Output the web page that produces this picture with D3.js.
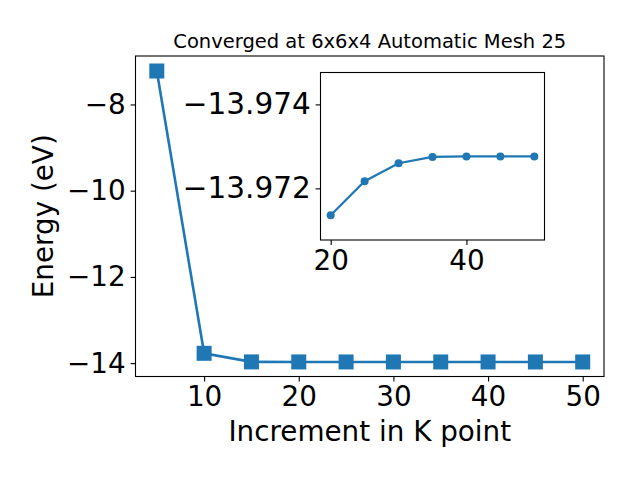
<!DOCTYPE html>
<html><head><meta charset="utf-8">
<script src="https://cdn.jsdelivr.net/npm/d3@7"></script>
<style>body{margin:0;background:#fff}svg{display:block}text{font-family:"DejaVu Sans",sans-serif;fill:#000}</style>
</head><body>
<svg id="c" width="640" height="480"></svg>
<script>
const kPoints = [5,10,15,20,25,30,35,40,45,50];
const energies = [-7.224,-13.772,-13.97136,-13.97217,-13.9726,-13.97275,-13.97276,-13.97276,-13.97276,-13.97276];
const mainXTicks = [10,20,30,40,50];
const mainYTicks = [-8,-10,-12,-14];
const insetK = [20,25,30,35,40,45,50];
const insetE = [-13.97136,-13.97217,-13.9726,-13.97275,-13.97276,-13.97276,-13.97276];
const insetXTicks = [20,40];
const insetYTicks = [-13.974,-13.972];
const title = "Converged at 6x6x4 Automatic Mesh 25";
const xLabel = "Increment in K point";
const yLabel = "Energy (eV)";

const svg = d3.select("#c");
const blue = "#1f77b4";
const fmt = v => (v<0?"\u2212":"") + Math.abs(v).toString();
const fmt3 = v => (v<0?"\u2212":"") + Math.abs(v).toFixed(3);

// main axes
const L=135.5, R=604, T=56, B=376.5;
const x = d3.scaleLinear().domain([2.75,52.25]).range([L,R]);
const y = d3.scaleLinear().domain([-14.31,-6.876]).range([B,T]);

svg.append("rect").attr("x",L).attr("y",T).attr("width",R-L).attr("height",B-T)
  .attr("fill","#fff").attr("stroke","#000").attr("stroke-width",1.1);

const gx = svg.append("g").attr("transform",`translate(0,${B})`)
  .call(d3.axisBottom(x).tickValues(mainXTicks).tickFormat(fmt).tickSize(4.9).tickPadding(4.9));
const gy = svg.append("g").attr("transform",`translate(${L},0)`)
  .call(d3.axisLeft(y).tickValues(mainYTicks).tickFormat(fmt).tickSize(4.9).tickPadding(4.9));
[gx,gy].forEach(g=>{g.select(".domain").remove();
  g.selectAll("line").attr("stroke","#000").attr("stroke-width",1.1);
  g.selectAll("text").style("font-size","27.8px").attr("fill","#000");});

const line = d3.line().x((d,i)=>x(kPoints[i])).y(d=>y(d));
svg.append("path").datum(energies).attr("d",line).attr("fill","none").attr("stroke",blue).attr("stroke-width",2.6);
svg.append("g").selectAll("rect").data(energies).join("rect")
  .attr("x",(d,i)=>x(kPoints[i])-7.5).attr("y",d=>y(d)-7.5).attr("width",15).attr("height",15)
  .attr("fill",blue);

svg.append("text").attr("x",(L+R)/2).attr("y",48).attr("text-anchor","middle").style("font-size","19.5px").text(title);
svg.append("text").attr("x",(L+R)/2).attr("y",440.5).attr("text-anchor","middle").style("font-size","27.8px").text(xLabel);
svg.append("text").attr("transform",`translate(52.5,${(T+B)/2}) rotate(-90)`).attr("text-anchor","middle").style("font-size","27.8px").text(yLabel);

// inset
const iL=320.5, iR=544.5, iT=72.5, iB=240;
const ix = d3.scaleLinear().domain([18.5,51.5]).range([iL,iR]);
const iy = d3.scaleLinear().domain([-13.97077,-13.97476]).range([iB,iT]);
svg.append("rect").attr("x",iL).attr("y",iT).attr("width",iR-iL).attr("height",iB-iT)
  .attr("fill","#fff").attr("stroke","#000").attr("stroke-width",1.1);
const igx = svg.append("g").attr("transform",`translate(0,${iB})`)
  .call(d3.axisBottom(ix).tickValues(insetXTicks).tickFormat(fmt).tickSize(4.9).tickPadding(4.9));
const igy = svg.append("g").attr("transform",`translate(${iL},0)`)
  .call(d3.axisLeft(iy).tickValues(insetYTicks).tickFormat(fmt3).tickSize(4.9).tickPadding(4.9));
[igx,igy].forEach(g=>{g.select(".domain").remove();
  g.selectAll("line").attr("stroke","#000").attr("stroke-width",1.1);
  g.selectAll("text").style("font-size","27.8px").attr("fill","#000");});
igy.selectAll("text").style("font-size","29.5px");
const iline = d3.line().x((d,i)=>ix(insetK[i])).y(d=>iy(d));
svg.append("path").datum(insetE).attr("d",iline).attr("fill","none").attr("stroke",blue).attr("stroke-width",2.2);
svg.append("g").selectAll("circle").data(insetE).join("circle")
  .attr("cx",(d,i)=>ix(insetK[i])).attr("cy",d=>iy(d)).attr("r",4).attr("fill",blue);
</script>
</body></html>
